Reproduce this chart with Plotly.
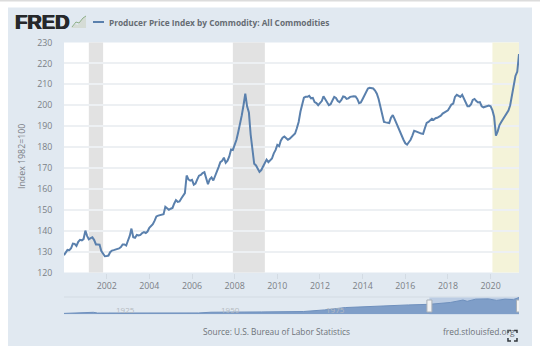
import pandas as pd
import plotly.graph_objects as go

W, H = 540, 352
MT, MB = 6, 6
ppi_values = [
    128.3,129.8,130.8,130.7,131.6,133.8,133.7,132.7,134.7,135.6,135.4,136.0,
    140.0,137.4,135.9,136.4,136.8,135.5,133.4,133.4,133.3,130.3,129.2,127.8,
    127.9,128.1,129.7,130.5,130.7,130.9,131.2,131.5,132.2,133.4,133.4,132.9,
    135.3,137.6,141.0,136.9,136.6,138.0,137.7,138.0,138.9,139.3,138.9,139.6,
    141.4,142.1,143.1,144.8,146.8,147.2,147.4,147.9,147.9,151.4,150.5,150.0,
    150.5,150.9,152.9,154.6,153.8,154.0,155.4,156.5,158.0,166.4,164.5,163.9,
    164.3,162.0,162.5,164.5,166.3,166.7,167.6,168.0,165.0,162.2,164.6,165.5,
    164.0,166.0,168.4,170.4,172.8,173.4,174.9,172.5,173.5,175.5,178.8,178.6,
    181.0,183.5,187.0,190.5,195.0,200.0,205.5,199.5,196.5,186.0,177.0,172.0,
    171.2,169.3,168.1,169.0,170.5,172.5,174.0,172.8,173.5,174.5,177.0,178.5,
    181.0,180.4,183.0,184.5,185.0,184.0,183.5,184.0,184.8,185.5,186.5,189.0,
    192.0,197.0,200.0,203.6,204.0,204.0,204.5,203.3,203.5,201.5,201.0,200.0,
    201.0,202.0,204.3,203.0,201.5,200.0,200.5,202.5,204.0,203.5,202.0,201.5,
    202.5,204.2,204.0,203.0,203.3,204.0,204.2,204.3,204.2,203.0,201.0,201.3,
    203.0,205.0,206.5,208.0,208.3,208.3,208.0,207.0,205.5,203.0,199.0,196.0,
    192.0,191.8,191.8,191.5,194.0,195.3,193.5,191.5,189.0,186.7,185.0,183.5,
    181.8,181.2,182.3,183.5,185.5,187.8,187.5,187.0,186.8,186.5,186.3,189.0,
    191.5,192.0,192.8,193.5,193.0,193.8,194.0,194.5,195.0,196.0,196.5,197.0,
    197.6,199.0,200.3,200.8,204.0,205.0,204.4,204.0,205.0,203.0,201.0,199.5,
    199.5,200.5,202.5,203.0,202.0,201.3,201.5,199.5,199.0,199.3,199.5,199.8,
    199.5,197.5,194.5,185.5,187.5,190.5,192.0,193.5,194.8,196.0,197.5,200.0,
    205.0,208.0,214.0,216.0,224.5,
]
ppi_dates = pd.date_range("2000-01-01", periods=len(ppi_values), freq="MS")

nav_years = [1913,1917,1920,1921,1925,1933,1940,1945,1948,1951,1960,1970,1973,1975,1980,
             1985,1990,1995,2000,2005,2008,2009,2011,2014,2016,2018,2020,2021]
nav_values = [12,22,26.6,16.8,17.8,11.4,13.5,18,27.7,30.4,31.7,36.9,45,58.4,89.8,
              103.2,116.3,124.7,132.7,157.4,189.6,172.9,201,205,185,201,195,224]
nav_dates = [f"{y}-01-01" for y in nav_years[:-1]] + ["2021-05-01"]

recessions = [("2001-03-01", "2001-11-01"), ("2007-12-01", "2009-06-01")]
covid_span = ("2020-02-01", "2021-05-01")
nav_labels = ["1925", "1950", "1975"]
year_ticks = ["2002", "2004", "2006", "2008", "2010", "2012", "2014", "2016", "2018", "2020"]
selected_span = ("2000-01-01", "2021-05-01")

TITLE = "Producer Price Index by Commodity: All Commodities"
LINE = "#5a80ad"
PANEL = "#e1e9f1"
TXT = "#7b8086"


def px(x):
    return x / W


def py(y):
    return 1 - (y - MT) / (H - MT - MB)


def path(points):
    return "M" + " L".join(f"{px(a):.4f},{py(b):.4f}" for a, b in points)


fig = go.Figure()
fig.add_trace(go.Scatter(x=ppi_dates, y=ppi_values, mode="lines", xaxis="x", yaxis="y",
                         name=TITLE, line=dict(color=LINE, width=2), hoverinfo="skip"))
fig.add_trace(go.Scatter(x=nav_dates, y=nav_values, mode="lines", xaxis="x2", yaxis="y2",
                         fill="tozeroy", fillcolor="#7f9ec8", line=dict(color="#6f90bd", width=1),
                         hoverinfo="skip"))

shapes = [
    dict(type="rect", xref="paper", yref="paper", x0=0, x1=1, y0=py(1.5), y1=py(0),
         fillcolor="#dcdcdc", line_width=0, layer="below"),
    dict(type="rect", xref="paper", yref="paper", x0=px(8), x1=px(532), y0=py(346), y1=py(7.5),
         fillcolor=PANEL, line_width=0, layer="below"),
    dict(type="rect", xref="paper", yref="paper", x0=px(64), x1=px(519), y0=py(272.5), y1=py(42.5),
         fillcolor="white", line_width=0, layer="below"),
    dict(type="line", xref="paper", yref="paper", x0=px(64), x1=px(519), y0=py(297), y1=py(297),
         line=dict(color="#d3dbe3", width=1), layer="below"),
    dict(type="line", xref="paper", yref="paper", x0=px(93), x1=px(104), y0=py(22), y1=py(22),
         line=dict(color=LINE, width=2)),
]
for a, b in recessions:
    shapes.append(dict(type="rect", xref="x", yref="paper", x0=a, x1=b, y0=py(272.5), y1=py(42.5),
                       fillcolor="#e2e2e2", line_width=0, layer="below"))
shapes.append(dict(type="rect", xref="x", yref="paper", x0=covid_span[0], x1=covid_span[1],
                   y0=py(272.5), y1=py(42.5), fillcolor="#f4f3d9", line_width=0, layer="below"))
shapes.append(dict(type="rect", xref="x2", yref="paper", x0=selected_span[0], x1=selected_span[1],
                   y0=py(314.3), y1=py(297.5), fillcolor="#bccde4", line_width=0, layer="below"))
for d in selected_span:
    shapes.append(dict(type="rect", xref="x2", yref="paper", xsizemode="pixel", xanchor=d,
                       x0=-2.5, x1=2.5, y0=py(312), y1=py(300), fillcolor="#f2f2f2",
                       line=dict(color="#a9b0b8", width=1)))
shapes.append(dict(type="path", xref="paper", yref="paper",
                   path=path([(71, 28), (75, 24), (78, 25), (82, 19), (86, 16), (86, 28)]) + " Z",
                   fillcolor="#d5dcd6", line_width=0))
shapes.append(dict(type="path", xref="paper", yref="paper",
                   path=path([(72, 27), (76, 22), (79, 23), (83, 18), (86, 16)]),
                   line=dict(color="#8fb08a", width=1)))
for c in [[(508, 333), (508, 330.5), (511, 330.5)], [(514, 330.5), (517, 330.5), (517, 333)],
          [(508, 338), (508, 341), (511, 341)], [(514, 341), (517, 341), (517, 338)]]:
    shapes.append(dict(type="path", xref="paper", yref="paper", path=path(c),
                       line=dict(color="#33383d", width=1.5)))

ann = [
    dict(text="<b>FRED</b>", x=px(12.5), y=py(22), xanchor="left", yanchor="middle",
         font=dict(family="Liberation Sans", size=20, color="#26282b",
                   shadow="0.7px 0 0 #26282b, -0.5px 0 0 #26282b")),
    dict(text="<b>" + TITLE + "</b>", x=px(107), y=py(22), xanchor="left", yanchor="middle",
         font=dict(family="Open Sans", size=8.3, color="#666c73")),
    dict(text="Index 1982=100", x=px(22), y=py(157), textangle=-90, xanchor="center", yanchor="middle",
         font=dict(family="Open Sans", size=8.8, color=TXT)),
    dict(text="Source: U.S. Bureau of Labor Statistics", x=px(276.5), y=py(331.5), xanchor="center",
         yanchor="middle", font=dict(family="Open Sans", size=8.3, color="#6d7278")),
    dict(text="fred.stlouisfed.org", x=px(517), y=py(331.5), xanchor="right", yanchor="middle",
         font=dict(family="Open Sans", size=8.4, color="#6d7278")),
]
for a in ann:
    a.update(xref="paper", yref="paper", showarrow=False)
for lab in nav_labels:
    ann.append(dict(text=lab, xref="x2", yref="paper", x=f"{lab}-01-01", y=py(309), xshift=11,
                    xanchor="center", yanchor="middle", showarrow=False,
                    font=dict(family="Open Sans", size=8, color="#b5bac0")))

fig.update_layout(
    width=W, height=H, autosize=False, margin=dict(l=0, r=0, t=MT, b=MB, pad=0),
    paper_bgcolor="white", plot_bgcolor="rgba(0,0,0,0)", showlegend=False,
    shapes=shapes, annotations=ann,
    font=dict(family="Open Sans", color=TXT),
    xaxis=dict(domain=[px(64), px(519)], anchor="y", type="date",
               range=["2000-01-01", "2021-05-01"],
               tickvals=[f"{y}-01-01" for y in year_ticks], ticktext=year_ticks,
               ticks="outside", ticklen=5, tickcolor="#d3dbe3", tickwidth=1,
               showgrid=False, zeroline=False, showline=False,
               tickfont=dict(family="Open Sans", size=8.8, color=TXT)),
    yaxis=dict(domain=[py(272.5), py(42.5)], anchor="x", range=[120, 230], dtick=10, tick0=120,
               showgrid=True, gridcolor="#edf0f3", gridwidth=1.5, zeroline=False, showline=False,
               ticks="outside", ticklen=9, tickcolor="rgba(0,0,0,0)",
               tickfont=dict(family="Open Sans", size=8.8, color=TXT)),
    xaxis2=dict(domain=[px(64), px(519)], anchor="y2", type="date",
                range=["1913-01-01", "2021-05-01"], visible=False),
    yaxis2=dict(domain=[py(314.3), py(297)], anchor="x2", range=[0, 230], visible=False),
)

fig.write_html("out.html", config=dict(displayModeBar=False),
               post_script="document.body.style.margin='0';document.body.style.overflow='hidden';")
